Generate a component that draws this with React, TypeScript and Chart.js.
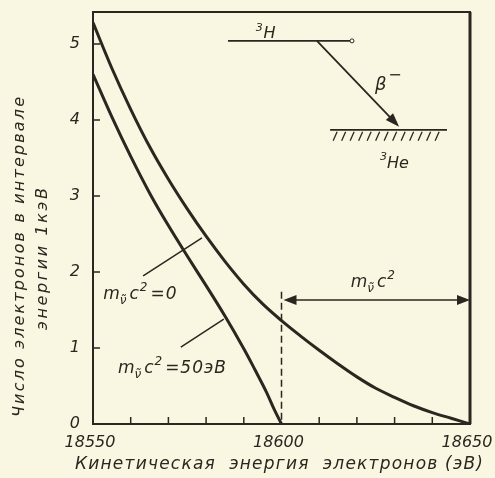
import React, { useEffect, useRef } from 'react';
import { Chart, registerables } from 'chart.js';

Chart.register(...registerables);

// ---- data ----
const energiesMassless = [
  18550, 18555, 18560, 18565, 18570, 18575, 18580, 18585, 18590, 18595, 18600,
  18605, 18610, 18615, 18620, 18625, 18630, 18635, 18640, 18645, 18650,
];
const countsMassless = [
  5.28, 4.68, 4.14, 3.65, 3.22, 2.83, 2.47, 2.14, 1.84, 1.58, 1.36,
  1.16, 0.97, 0.79, 0.62, 0.47, 0.35, 0.24, 0.15, 0.075, 0,
];
const energiesMassive = [
  18550, 18555, 18560, 18565, 18570, 18575, 18580, 18585, 18590, 18593, 18596, 18598, 18600,
];
const countsMassive = [4.6, 4.04, 3.52, 3.04, 2.61, 2.21, 1.82, 1.42, 0.99, 0.71, 0.42, 0.2, 0];

const yTickValues = [0, 1, 2, 3, 4, 5];
const yInnerTicks = [1, 2, 3, 4, 5];
const xLabelValues = [18550, 18600, 18650];
const xInnerTicks = [18560, 18570, 18580, 18590, 18610, 18620, 18630, 18640];
const xTitle = 'Кинетическая  энергия  электронов (эВ)';
const yTitleLines = ['Число электронов в интервале', 'энергии 1кэВ'];
const labelMassless = '=0';
const labelMassive = '=50эВ';
const cutoffEnergy = 18600;
const endpointEnergy = 18650;

const INK = '#29271f';
const BG = '#f9f6e2';
const FAM = '"DejaVu Sans", sans-serif';

function spaced(ctx: CanvasRenderingContext2D, text: string, x0: number, y: number, width: number) {
  (ctx as any).letterSpacing = '0px';
  const w = ctx.measureText(text).width;
  const ls = (width - w) / Math.max(1, text.length - 1);
  (ctx as any).letterSpacing = `${ls}px`;
  ctx.textAlign = 'left';
  ctx.fillText(text, x0, y);
  (ctx as any).letterSpacing = '0px';
}

function arrowHead(ctx: CanvasRenderingContext2D, fx: number, fy: number, tx: number, ty: number, len: number, half: number) {
  const a = Math.atan2(ty - fy, tx - fx);
  const c = Math.cos(a), s = Math.sin(a);
  ctx.beginPath();
  ctx.moveTo(tx, ty);
  ctx.lineTo(tx - len * c + half * s, ty - len * s - half * c);
  ctx.lineTo(tx - len * c - half * s, ty - len * s + half * c);
  ctx.closePath();
  ctx.fill();
}

function massLabel(ctx: CanvasRenderingContext2D, x: number, y: number, tail: string) {
  ctx.textAlign = 'left';
  ctx.textBaseline = 'alphabetic';
  let cx = x;
  ctx.font = `italic 17px ${FAM}`;
  ctx.fillText('m', cx, y);
  cx += ctx.measureText('m').width;
  ctx.font = `italic 12px ${FAM}`;
  ctx.fillText('ν̃', cx, y + 5);
  cx += ctx.measureText('ν').width + 3;
  ctx.font = `italic 17px ${FAM}`;
  ctx.fillText('c', cx, y);
  cx += ctx.measureText('c').width + 1;
  ctx.font = `italic 12px ${FAM}`;
  ctx.fillText('2', cx, y - 8);
  cx += ctx.measureText('2').width + 3;
  if (tail) {
    ctx.font = `italic 17px ${FAM}`;
    (ctx as any).letterSpacing = '1px';
    ctx.fillText(tail, cx, y);
    (ctx as any).letterSpacing = '0px';
  }
}

const decor = {
  id: 'decor',
  afterDraw(chart: any) {
    const ctx: CanvasRenderingContext2D = chart.ctx;
    const xs = chart.scales.x;
    const ys = chart.scales.y;
    const { left, right, top, bottom } = chart.chartArea;
    const X = (e: number) => xs.getPixelForValue(e);
    const Y = (v: number) => ys.getPixelForValue(v);
    ctx.save();
    ctx.strokeStyle = INK;
    ctx.fillStyle = INK;
    ctx.lineCap = 'butt';

    // frame
    ctx.lineWidth = 2;
    ctx.strokeRect(left, top, right - left, bottom - top);
    ctx.lineWidth = 3;
    ctx.beginPath();
    ctx.moveTo(right, top);
    ctx.lineTo(right, bottom);
    ctx.stroke();

    // inward ticks
    ctx.lineWidth = 1.5;
    ctx.beginPath();
    yInnerTicks.forEach((v) => {
      ctx.moveTo(left, Y(v));
      ctx.lineTo(left + 7, Y(v));
    });
    xInnerTicks.forEach((e) => {
      ctx.moveTo(X(e), bottom);
      ctx.lineTo(X(e), bottom - 7);
    });
    ctx.stroke();

    // dashed cutoff line
    ctx.lineWidth = 1.5;
    ctx.setLineDash([7, 4]);
    ctx.beginPath();
    ctx.moveTo(X(cutoffEnergy), Y(1.74));
    ctx.lineTo(X(cutoffEnergy), bottom);
    ctx.stroke();
    ctx.setLineDash([]);

    // double arrow m c^2
    const ay = Y(1.63);
    ctx.lineWidth = 1.5;
    ctx.beginPath();
    ctx.moveTo(X(cutoffEnergy) + 6, ay);
    ctx.lineTo(X(endpointEnergy) - 6, ay);
    ctx.stroke();
    arrowHead(ctx, X(endpointEnergy) - 20, ay, X(cutoffEnergy) + 2, ay, 13, 5);
    arrowHead(ctx, X(cutoffEnergy) + 20, ay, X(endpointEnergy), ay, 13, 5);
    massLabel(ctx, X(18625) - 25, Y(1.63) - 13, '');

    // leader lines
    ctx.lineWidth = 1.5;
    ctx.beginPath();
    ctx.moveTo(X(18563.3), Y(1.95));
    ctx.lineTo(X(18578.9), Y(2.45));
    ctx.moveTo(X(18573.3), Y(1.01));
    ctx.lineTo(X(18584.7), Y(1.38));
    ctx.stroke();
    massLabel(ctx, X(18552.7), Y(1.64), labelMassless);
    massLabel(ctx, X(18556.6), Y(0.67), labelMassive);

    // energy-level scheme
    ctx.lineWidth = 1.8;
    const hY = Y(5.04);
    ctx.beginPath();
    ctx.moveTo(X(18585.8), hY);
    ctx.lineTo(X(18618.2), hY);
    ctx.stroke();
    ctx.beginPath();
    ctx.arc(X(18618.7), hY, 2, 0, Math.PI * 2);
    ctx.fillStyle = '#ffffff';
    ctx.fill();
    ctx.lineWidth = 1;
    ctx.stroke();
    ctx.fillStyle = INK;

    const sx = X(18609.4), sy = hY;
    const tx = X(18631.2), ty = Y(3.91);
    ctx.lineWidth = 1.8;
    ctx.beginPath();
    ctx.moveTo(sx, sy);
    ctx.lineTo(tx - (tx - sx) * 0.1, ty - (ty - sy) * 0.1);
    ctx.stroke();
    arrowHead(ctx, sx, sy, tx, ty, 14, 5);

    const heY = Y(3.87);
    const heL = X(18612.9), heR = X(18643.9);
    ctx.lineWidth = 1.8;
    ctx.beginPath();
    ctx.moveTo(heL, heY);
    ctx.lineTo(heR, heY);
    ctx.stroke();
    ctx.lineWidth = 1.3;
    ctx.beginPath();
    for (let hx = heL + 7; hx <= heR - 2; hx += 8.5) {
      ctx.moveTo(hx, heY + 2);
      ctx.lineTo(hx - 4, heY + 11);
    }
    ctx.stroke();

    ctx.textBaseline = 'alphabetic';
    ctx.textAlign = 'left';
    ctx.font = `italic 11px ${FAM}`;
    ctx.fillText('3', X(18593.2), Y(5.2) + 2);
    ctx.font = `italic 16px ${FAM}`;
    ctx.fillText('H', X(18595.2), Y(5.18) + 8);

    ctx.font = `italic 11px ${FAM}`;
    ctx.fillText('3', X(18626.1), Y(3.45) - 2);
    ctx.font = `italic 16px ${FAM}`;
    ctx.fillText('He', X(18628), Y(3.45) + 6);

    ctx.font = `italic 18px ${FAM}`;
    ctx.fillText('β', X(18624.8), Y(4.39));
    ctx.font = `16px ${FAM}`;
    ctx.fillText('−', X(18628.3), Y(4.39) - 10);

    // axis titles
    ctx.font = `italic 17px ${FAM}`;
    ctx.textBaseline = 'middle';
    spaced(ctx, xTitle, 75, 465, 408);

    ctx.save();
    ctx.translate(20, 257);
    ctx.rotate(-Math.PI / 2);
    ctx.font = `italic 16px ${FAM}`;
    spaced(ctx, yTitleLines[0], -160, 0, 320);
    ctx.restore();
    ctx.save();
    ctx.translate(43, 259);
    ctx.rotate(-Math.PI / 2);
    ctx.font = `italic 16px ${FAM}`;
    spaced(ctx, yTitleLines[1], -71, 0, 142);
    ctx.restore();

    ctx.restore();
  },
};

export default function App() {
  const ref = useRef<HTMLCanvasElement>(null);
  useEffect(() => {
    const canvas = ref.current;
    if (!canvas) return;
    const tickFont = { family: FAM, size: 16, style: 'italic' as const };
    const chart = new Chart(canvas, {
      type: 'line',
      data: {
        datasets: [
          {
            data: energiesMassless.map((e, i) => ({ x: e, y: countsMassless[i] })),
            borderColor: INK,
            borderWidth: 3,
            pointRadius: 0,
            tension: 0.35,
            fill: false,
          },
          {
            data: energiesMassive.map((e, i) => ({ x: e, y: countsMassive[i] })),
            borderColor: INK,
            borderWidth: 3,
            pointRadius: 0,
            tension: 0.35,
            fill: false,
          },
        ],
      },
      options: {
        animation: false,
        responsive: false,
        events: [],
        layout: { padding: { top: 12, right: 25, left: 0, bottom: 0 } },
        plugins: { legend: { display: false }, tooltip: { enabled: false } },
        scales: {
          x: {
            type: 'linear',
            min: 18550,
            max: 18650,
            afterFit: (s: any) => {
              s.height = 54;
              s.paddingLeft = 0;
              s.paddingRight = 0;
            },
            grid: { display: false, drawTicks: false },
            border: { display: false },
            ticks: {
              stepSize: 10,
              autoSkip: false,
              maxRotation: 0,
              padding: 9,
              labelOffset: -3,
              color: INK,
              font: tickFont,
              callback: (v: any) => (xLabelValues.includes(Number(v)) ? String(v) : ''),
            },
          },
          y: {
            type: 'linear',
            min: 0,
            max: 5.42,
            afterFit: (s: any) => {
              s.width = 93;
              s.paddingTop = 0;
              s.paddingBottom = 0;
            },
            afterBuildTicks: (s: any) => {
              s.ticks = s.ticks.filter((t: any) => yTickValues.includes(t.value));
            },
            grid: { display: false, drawTicks: false },
            border: { display: false },
            ticks: {
              stepSize: 1,
              padding: 13,
              color: INK,
              font: tickFont,
            },
          },
        },
      },
      plugins: [decor],
    } as any);
    return () => chart.destroy();
  }, []);
  return (
    <div style={{ position: 'fixed', left: 0, top: 0, width: 495, height: 478, background: BG }}>
      <canvas ref={ref} width={495} height={478} style={{ display: 'block' }} />
    </div>
  );
}
